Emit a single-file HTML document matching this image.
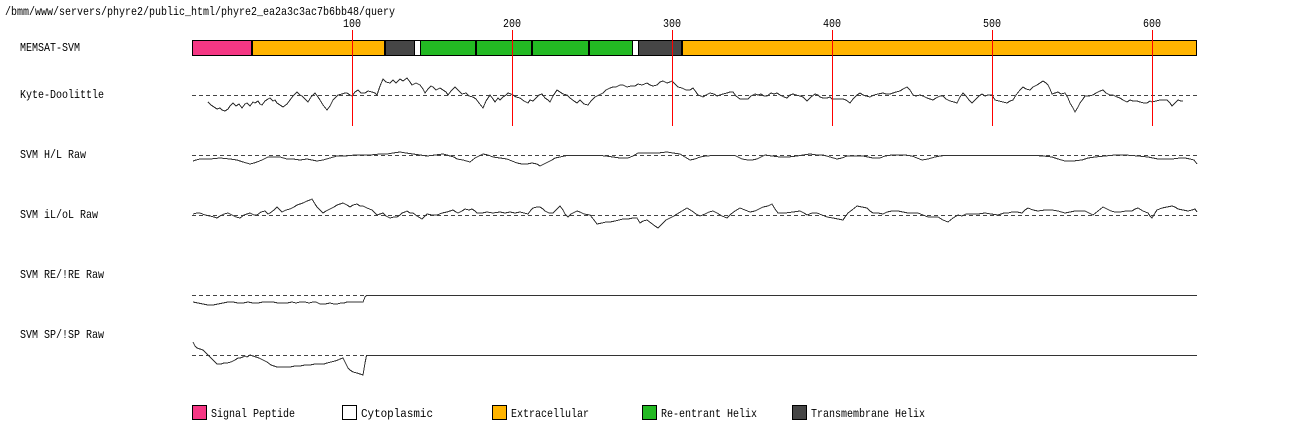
<!DOCTYPE html>
<html>
<head>
<meta charset="utf-8">
<style>
html,body{margin:0;padding:0;background:#fff;width:1292px;height:435px;overflow:hidden;}
svg{display:block;}
text{font-family:"Liberation Mono","DejaVu Sans Mono",monospace;font-size:12px;fill:#000;}
</style>
</head>
<body>
<svg width="1292" height="435" viewBox="0 0 1292 435" xmlns="http://www.w3.org/2000/svg">
<rect x="0" y="0" width="1292" height="435" fill="#fff"/>

<!-- header -->
<text x="5" y="15" textLength="390" lengthAdjust="spacingAndGlyphs">/bmm/www/servers/phyre2/public_html/phyre2_ea2a3c3ac7b6bb48/query</text>

<!-- tick labels -->
<text x="343" y="27" textLength="18" lengthAdjust="spacingAndGlyphs">100</text>
<text x="503" y="27" textLength="18" lengthAdjust="spacingAndGlyphs">200</text>
<text x="663" y="27" textLength="18" lengthAdjust="spacingAndGlyphs">300</text>
<text x="823" y="27" textLength="18" lengthAdjust="spacingAndGlyphs">400</text>
<text x="983" y="27" textLength="18" lengthAdjust="spacingAndGlyphs">500</text>
<text x="1143" y="27" textLength="18" lengthAdjust="spacingAndGlyphs">600</text>

<!-- row labels -->
<text x="20" y="51" textLength="60" lengthAdjust="spacingAndGlyphs">MEMSAT-SVM</text>
<text x="20" y="98" textLength="84" lengthAdjust="spacingAndGlyphs">Kyte-Doolittle</text>
<text x="20" y="158" textLength="66" lengthAdjust="spacingAndGlyphs">SVM H/L Raw</text>
<text x="20" y="218" textLength="78" lengthAdjust="spacingAndGlyphs">SVM iL/oL Raw</text>
<text x="20" y="278" textLength="84" lengthAdjust="spacingAndGlyphs">SVM RE/!RE Raw</text>
<text x="20" y="338" textLength="84" lengthAdjust="spacingAndGlyphs">SVM SP/!SP Raw</text>

<!-- MEMSAT bar -->
<g stroke="#000" stroke-width="1" shape-rendering="crispEdges">
<rect x="192.5" y="40.5" width="59" height="15" fill="#F53784"/>
<rect x="251.5" y="40.5" width="133" height="15" fill="#FFB400"/>
<rect x="384.5" y="40.5" width="30" height="15" fill="#464646"/>
<rect x="414.5" y="40.5" width="6" height="15" fill="#FFFFFF"/>
<rect x="420.5" y="40.5" width="55" height="15" fill="#23B923"/>
<rect x="475.5" y="40.5" width="56" height="15" fill="#23B923"/>
<rect x="531.5" y="40.5" width="57" height="15" fill="#23B923"/>
<rect x="588.5" y="40.5" width="44" height="15" fill="#23B923"/>
<rect x="632.5" y="40.5" width="6" height="15" fill="#FFFFFF"/>
<rect x="638.5" y="40.5" width="43" height="15" fill="#464646"/>
<rect x="681.5" y="40.5" width="515" height="15" fill="#FFB400"/>
</g>
<g fill="#000" shape-rendering="crispEdges">
<rect x="251" y="40" width="2" height="16"/>
<rect x="384" y="40" width="2" height="16"/>
<rect x="475" y="40" width="2" height="16"/>
<rect x="531" y="40" width="2" height="16"/>
<rect x="588" y="40" width="2" height="16"/>
<rect x="681" y="40" width="2" height="16"/>
</g>

<!-- dashed baselines -->
<g stroke="#444" stroke-width="1" stroke-dasharray="4,3" shape-rendering="crispEdges">
<line x1="192" y1="95.5" x2="1197" y2="95.5"/>
<line x1="192" y1="155.5" x2="1197" y2="155.5"/>
<line x1="192" y1="215.5" x2="1197" y2="215.5"/>
<line x1="192" y1="295.5" x2="1197" y2="295.5"/>
<line x1="192" y1="355.5" x2="1197" y2="355.5"/>
</g>

<g fill="none" stroke="#333" stroke-width="1" stroke-linejoin="miter" shape-rendering="crispEdges">
<!-- Kyte-Doolittle -->
<polyline points="208,102 211,105 214,107 217,109 220,108 222,110 225,111 228,109 230,106 233,103 236,106 239,104 242,108 245,104 247,103 250,106 253,102 255,103 258,101 260,104 262,105 265,101 268,99 270,98 273,101 275,100 277,103 280,105 283,107 287,104 290,100 293,96 297,92 300,95 302,96 305,99 308,102 311,97 315,93 318,97 320,100 323,105 327,110 330,106 333,100 336,97 338,95 342,94 345,93 347,93 350,95 352,96 355,92 358,90 361,93 365,93 368,91 372,92 375,93 377,95 380,86 383,79 386,82 390,83 393,80 396,83 400,79 403,81 407,78 410,82 412,85 416,83 420,85 423,89 425,93 428,89 431,86 433,87 436,90 440,88 443,90 446,92 448,95 451,91 455,87 458,90 462,94 466,93 469,96 473,97 476,99 479,103 483,108 486,101 490,95 493,99 495,102 498,98 500,100 503,97 506,95 508,93 511,94 513,95 516,97 520,98 524,101 528,103 530,100 533,101 536,98 539,95 542,94 545,98 548,100 550,102 553,96 557,90 560,92 563,94 567,95 570,98 574,101 577,103 580,100 584,104 588,105 591,101 595,97 599,95 603,93 606,90 610,88 613,87 616,87 620,85 623,85 627,87 631,86 635,86 638,84 642,85 647,83 650,85 653,86 657,85 660,82 663,81 667,83 670,82 672,81 675,84 678,87 682,88 686,90 690,90 693,88 696,92 698,95 701,96 703,97 706,95 710,93 714,94 717,96 720,95 723,94 727,93 730,92 733,92 736,96 740,99 744,99 748,99 751,96 755,94 758,95 761,94 764,96 767,96 771,93 774,94 777,93 780,95 784,97 787,98 790,95 793,94 796,95 800,96 803,97 807,101 811,97 815,94 818,95 820,97 823,98 827,98 830,97 832,99 836,99 840,99 843,99 846,100 850,103 853,99 857,95 860,93 863,95 866,96 870,97 874,95 878,94 883,93 886,94 890,94 893,93 896,92 900,91 903,89 907,87 910,90 913,95 916,96 920,95 923,96 927,98 930,99 933,100 936,98 940,96 943,96 946,99 950,101 954,102 957,103 960,97 963,93 966,96 969,100 972,103 976,99 979,96 982,94 985,96 988,95 992,95 995,100 999,101 1003,102 1007,103 1010,101 1013,100 1016,95 1020,90 1023,87 1026,89 1030,90 1033,87 1037,85 1040,83 1043,81 1046,83 1048,85 1050,89 1052,94 1055,93 1058,92 1061,94 1065,93 1068,98 1070,103 1073,108 1075,112 1078,107 1080,103 1083,99 1085,96 1089,96 1093,95 1096,93 1100,91 1103,90 1106,93 1110,95 1113,95 1117,97 1120,98 1123,100 1127,102 1130,100 1133,101 1137,101 1140,102 1144,103 1147,103 1150,101 1152,102 1156,101 1160,100 1163,100 1167,100 1170,103 1172,106 1175,103 1178,100 1181,101 1183,101"/>

<!-- SVM H/L -->
<polyline points="193,161 196,160 200,159 210,159 220,158 230,159 237,160 243,162 250,164 254,163 257,162 262,160 268,157 275,157 280,157 287,159 293,159 300,160 307,159 312,160 317,161 323,160 330,158 337,156 345,156 355,155 363,155 370,155 380,154 387,154 393,153 400,152 406,153 413,154 420,155 427,156 435,155 443,154 447,155 450,156 454,157 457,159 463,160 470,162 475,158 479,156 483,154 488,155 493,157 500,158 507,159 512,161 517,163 522,164 527,164 532,163 537,164 540,166 544,164 548,162 552,160 555,158 560,157 567,155.5 600,155.5 606,156 613,157 620,158 628,158 633,156 638,153 645,153 650,153 658,153 667,152 673,153 680,154 685,157 690,160 695,159 700,157 706,156 713,155.5 735,155.5 738,157 742,159 748,160 752,160 757,159 761,157 765,155 772,156 780,157 788,157 797,156 803,155 810,154 817,155 823,155 830,157 837,159 842,158 847,156 855,156 863,156 868,157 873,158 880,158 885,156 892,155 898,155 905,155 912,156 917,158 922,160 928,159 935,157 940,156 945,155.5 1035,155.5 1043,156 1052,157 1058,159 1065,161 1073,161 1082,160 1088,158 1095,157 1105,156 1115,155 1125,155 1138,156 1148,157 1158,159 1165,159 1172,159 1180,158 1185,158 1190,159 1194,160 1197,164"/>

<!-- SVM iL/oL -->
<polyline points="193,214 197,213 200,213 205,215 210,216 214,217 217,218 220,216 224,214 228,213 232,215 236,217 240,218 244,215 247,214 250,213 254,215 257,215 261,212 265,211 268,214 270,213 274,210 277,207 280,210 282,212 286,210 290,209 294,207 297,205 300,204 303,203 307,201 310,200 312,199 315,204 317,207 320,210 323,213 326,211 330,209 334,207 337,205 340,204 343,203 347,205 350,207 353,205 357,204 360,206 363,206 367,208 372,210 375,213 377,215 380,214 383,213 386,216 390,218 394,217 397,217 400,215 402,213 405,212 407,211 410,213 413,213 417,216 422,219 425,216 427,214 432,215 437,215 442,213 447,212 450,211 453,210 456,212 458,213 462,211 465,209 469,210 472,209 475,211 477,213 482,213 487,212 493,213 500,212 505,213 510,212 515,213 520,212 524,213 528,214 531,210 533,208 537,207 540,207 543,209 545,211 549,213 553,213 557,209 560,206 563,210 565,214 568,217 571,214 575,212 577,211 580,212 584,214 590,215 594,220 597,224 602,223 606,222 610,222 615,221 619,220 623,219 628,219 633,218 637,218 640,223 643,221 647,220 651,223 655,226 658,228 662,224 666,220 670,218 674,216 677,214 682,211 687,208 692,211 696,214 700,216 705,214 709,212 713,211 717,213 722,216 727,218 731,214 735,211 740,208 745,210 750,212 755,211 759,209 763,207 768,206 772,204 775,209 778,213 785,213 793,212 800,211 804,213 807,215 812,213 817,213 822,215 827,217 833,218 838,219 843,220 845,217 848,213 852,210 857,206 862,207 867,208 870,211 873,213 878,213 883,214 887,212 892,211 898,211 903,212 908,213 913,213 918,213 923,215 928,217 933,217 938,217 943,220 948,222 953,218 958,215 962,216 966,214 972,214 978,214 985,213 991,214 998,215 1004,213 1008,213 1012,212 1017,212 1022,213 1025,210 1028,208 1033,210 1038,211 1045,210 1052,210 1058,211 1065,213 1070,212 1075,211 1080,211 1085,211 1089,213 1093,215 1098,211 1103,207 1107,209 1111,211 1115,212 1120,212 1126,211 1132,211 1135,209 1138,208 1143,211 1148,213 1150,216 1152,218 1155,213 1157,210 1162,208 1167,207 1172,206 1175,207 1178,209 1183,210 1188,211 1192,210 1195,209 1197,212"/>

<!-- SVM RE/!RE -->
<polyline points="193,302 198,303 203,304 208,305 213,305 218,304 223,303 228,302 233,302 238,303 243,303 248,302 253,303 258,303 263,302 268,302 273,302 278,303 283,303 287,303 292,302 296,303 300,302 305,302 309,303 313,302 316,302 320,304 325,304 330,303 334,304 337,304 341,303 344,303 347,302 352,302 357,302 363,302 365,297 366.5,295.5 1197,295.5"/>

<!-- SVM SP/!SP -->
<polyline points="193,342 195,346 197,348 200,349 203,350 206,353 210,357 213,360 217,364 221,364 224,363 227,363 231,362 235,360 238,358 240,358 243,357 245,356 247,357 250,355 253,356 256,357 259,358 263,360 267,362 271,365 277,367 282,367 286,367 290,367 295,366 300,366 305,365 310,365 315,364 320,364 324,364 327,363 331,362 335,361 338,360 340,359 343,358 345,362 348,368 350,370 353,372 357,373 360,374 363,375 365,363 366.5,355.5 1197,355.5"/>
</g>

<!-- red position lines -->
<g stroke="#FF0000" stroke-width="1" shape-rendering="crispEdges">
<line x1="352.5" y1="30" x2="352.5" y2="126"/>
<line x1="512.5" y1="30" x2="512.5" y2="126"/>
<line x1="672.5" y1="30" x2="672.5" y2="126"/>
<line x1="832.5" y1="30" x2="832.5" y2="126"/>
<line x1="992.5" y1="30" x2="992.5" y2="126"/>
<line x1="1152.5" y1="30" x2="1152.5" y2="126"/>
</g>

<!-- legend -->
<g stroke="#000" stroke-width="1" shape-rendering="crispEdges">
<rect x="192.5" y="405.5" width="14" height="14" fill="#F53784"/>
<rect x="342.5" y="405.5" width="14" height="14" fill="#FFFFFF"/>
<rect x="492.5" y="405.5" width="14" height="14" fill="#FFB400"/>
<rect x="642.5" y="405.5" width="14" height="14" fill="#23B923"/>
<rect x="792.5" y="405.5" width="14" height="14" fill="#464646"/>
</g>
<text x="211" y="417" textLength="84" lengthAdjust="spacingAndGlyphs">Signal Peptide</text>
<text x="361" y="417" textLength="72" lengthAdjust="spacingAndGlyphs">Cytoplasmic</text>
<text x="511" y="417" textLength="78" lengthAdjust="spacingAndGlyphs">Extracellular</text>
<text x="661" y="417" textLength="96" lengthAdjust="spacingAndGlyphs">Re-entrant Helix</text>
<text x="811" y="417" textLength="114" lengthAdjust="spacingAndGlyphs">Transmembrane Helix</text>
</svg>
</body>
</html>
